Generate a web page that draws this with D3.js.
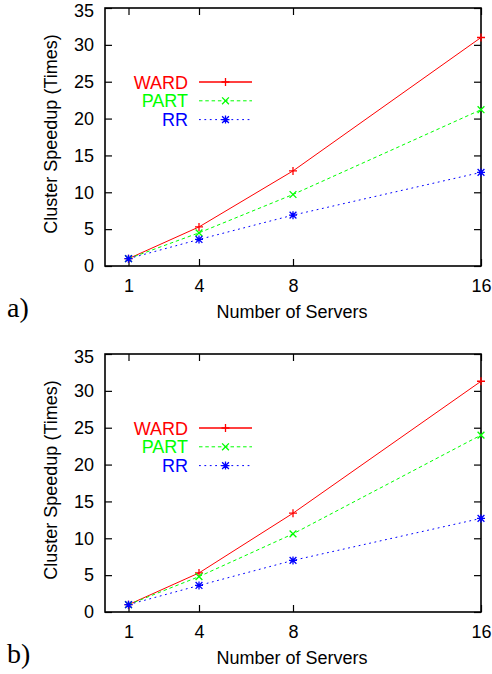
<!DOCTYPE html>
<html>
<head>
<meta charset="utf-8">
<script src="https://cdn.jsdelivr.net/npm/d3@7"></script>
<style>
    body { margin: 0; background: #fff; }
    text { font-family: "Liberation Sans", Arial, sans-serif; }
</style>
</head>
<body>
<div id="chart"></div>
<script>
const servers = [1, 4, 8, 16];
const seriesNames = ["WARD", "PART", "RR"];
const yTicks = [0, 5, 10, 15, 20, 25, 30, 35];

// panel a)
const wardA = [1, 5.3, 12.9, 31.0];
const partA = [1, 4.5, 9.7, 21.2];
const rrA = [1, 3.6, 6.9, 12.7];

// panel b)
const wardB = [1, 5.3, 13.4, 31.3];
const partB = [1, 4.8, 10.6, 24.0];
const rrB = [1, 3.6, 7.0, 12.7];

const width = 492, height = 674;
const colors = ["#ff0000", "#00ff00", "#0000ff"];
const dashes = [null, "3.5,2.8", "1.8,3.6"];
const markers = ["plus", "cross", "star"];

const svg = d3.select("#chart").append("svg")
    .attr("width", width)
    .attr("height", height);

drawPanel(svg, 8, "a)", [wardA, partA, rrA]);
drawPanel(svg, 354, "b)", [wardB, partB, rrB]);

function drawPanel(svg, top, tag, series) {
    const left = 105, right = 481, h = 258;
    const x = d3.scaleLinear().domain([0, 16]).range([left, right]);
    const y = d3.scaleLinear().domain([0, 35]).range([top + h, top]);

    const g = svg.append("g");

    // axes with inward ticks on all four sides
    const ax = [
        d3.axisBottom(x).tickValues(servers).tickSizeInner(-7).tickSizeOuter(0).tickPadding(13),
        d3.axisTop(x).tickValues(servers).tickSizeInner(-7).tickSizeOuter(0).tickFormat(""),
        d3.axisLeft(y).tickValues(yTicks).tickSizeInner(-7).tickSizeOuter(0).tickPadding(11),
        d3.axisRight(y).tickValues(yTicks).tickSizeInner(-7).tickSizeOuter(0).tickFormat("")
    ];
    const pos = [`translate(0,${top + h})`, `translate(0,${top})`, `translate(${left},0)`, `translate(${right},0)`];
    ax.forEach((a, i) => {
        const s = g.append("g").attr("transform", pos[i]).call(a);
        s.select(".domain").remove();
        s.selectAll(".tick line").attr("stroke", "#000").attr("stroke-width", 1.2);
        s.selectAll(".tick text").attr("fill", "#000").style("font-size", "18px")
            .style("font-family", "'Liberation Sans', Arial, sans-serif");
        if (i === 2) {
            // keep the top label inside the page
            s.selectAll(".tick text").filter(d => d === 35).attr("dy", "0.45em");
        }
    });

    g.append("rect")
        .attr("x", left).attr("y", top)
        .attr("width", right - left).attr("height", h)
        .attr("fill", "none").attr("stroke", "#000").attr("stroke-width", 1.6);

    // axis titles
    g.append("text")
        .attr("transform", `translate(57,${top + 126}) rotate(-90)`)
        .attr("text-anchor", "middle")
        .style("font-size", "18px")
        .text("Cluster Speedup (Times)");

    g.append("text")
        .attr("x", 292)
        .attr("y", top + h + 52)
        .attr("text-anchor", "middle")
        .style("font-size", "18px")
        .text("Number of Servers");

    g.append("text")
        .attr("x", 7)
        .attr("y", top + h + 51)
        .style("font-family", "'Liberation Serif', 'Times New Roman', serif")
        .style("font-size", "28px")
        .text(tag);

    const line = d3.line().x((d, i) => x(servers[i])).y(d => y(d));

    series.forEach((vals, k) => {
        g.append("path")
            .datum(vals)
            .attr("d", line)
            .attr("fill", "none")
            .attr("stroke", colors[k])
            .attr("stroke-width", 1)
            .attr("stroke-dasharray", dashes[k]);

        vals.forEach((v, i) => drawMarker(g, markers[k], x(servers[i]), y(v), colors[k]));

        // legend
        const ly = top + 74 + k * 18.8;
        g.append("text")
            .attr("x", 188)
            .attr("y", ly + 6.5)
            .attr("text-anchor", "end")
            .attr("fill", colors[k])
            .style("font-size", "18px")
            .text(seriesNames[k]);
        g.append("line")
            .attr("x1", 199).attr("x2", 252)
            .attr("y1", ly).attr("y2", ly)
            .attr("stroke", colors[k])
            .attr("stroke-width", k === 0 ? 1.5 : 1)
            .attr("stroke-dasharray", dashes[k]);
        drawMarker(g, markers[k], 225.5, ly, colors[k]);
    });
}

function drawMarker(g, type, cx, cy, color) {
    const r = 4;
    const p = d3.path();
    if (type === "plus" || type === "star") {
        p.moveTo(cx - r, cy); p.lineTo(cx + r, cy);
        p.moveTo(cx, cy - r); p.lineTo(cx, cy + r);
    }
    if (type === "cross" || type === "star") {
        const q = r * 0.85;
        p.moveTo(cx - q, cy - q); p.lineTo(cx + q, cy + q);
        p.moveTo(cx - q, cy + q); p.lineTo(cx + q, cy - q);
    }
    g.append("path")
        .attr("d", p.toString())
        .attr("fill", "none")
        .attr("stroke", color)
        .attr("stroke-width", 1.3);
}
</script>
</body>
</html>
